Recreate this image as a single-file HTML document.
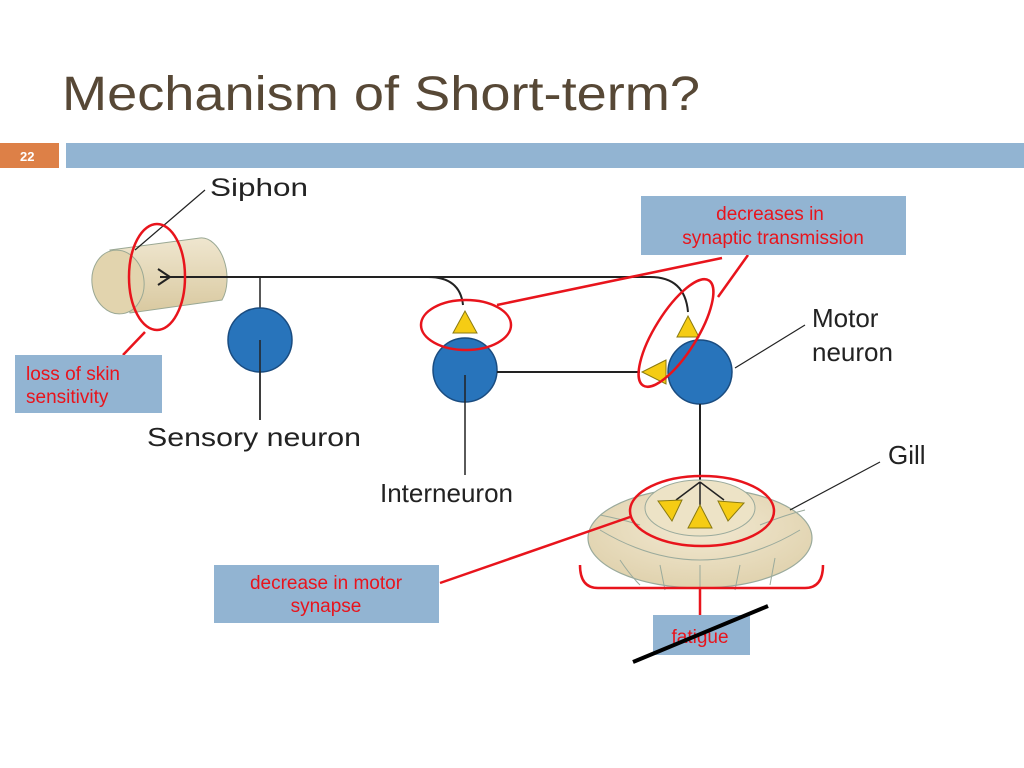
<!DOCTYPE html>
<html><head><style>
body{margin:0;width:1024px;height:768px;background:#fff;overflow:hidden;font-family:"Liberation Sans",sans-serif}
svg{position:absolute;left:0;top:0}
</style></head><body>
<svg width="1024" height="768" viewBox="0 0 1024 768">
<defs>
<linearGradient id="cyl" x1="0" y1="0" x2="0" y2="1"><stop offset="0" stop-color="#efe6cf"/><stop offset="1" stop-color="#d9c9a0"/></linearGradient>
<radialGradient id="gill" cx="0.5" cy="0.4" r="0.6"><stop offset="0" stop-color="#f2e9d2"/><stop offset="1" stop-color="#e0d2ae"/></radialGradient>
</defs>
<text x="62" y="110" font-size="48" fill="#574836" textLength="638" lengthAdjust="spacingAndGlyphs">Mechanism of Short-term?</text>
<rect x="0" y="143" width="59" height="25" fill="#dd8047"/>
<text x="20" y="161" font-size="13" font-weight="bold" fill="#fff">22</text>
<rect x="66" y="143" width="958" height="25" fill="#92b4d2"/>

<!-- siphon -->
<path d="M110 250 L200 238 A22 36 -8 0 1 222 300 L130 313 Z" fill="url(#cyl)" stroke="#9aa894" stroke-width="1"/>
<ellipse cx="118" cy="282" rx="26" ry="32" transform="rotate(-8 118 282)" fill="#e2d4ae" stroke="#9aa894"/>
<line x1="135" y1="250" x2="205" y2="190" stroke="#222" stroke-width="1.2"/>
<text x="210" y="196" font-size="25" fill="#222" textLength="98" lengthAdjust="spacingAndGlyphs">Siphon</text>
<path d="M158 269 L170 277 L158 285" fill="none" stroke="#222" stroke-width="2"/>
<path d="M160 277 H428 Q460 277 463 305" fill="none" stroke="#222" stroke-width="2"/>
<path d="M428 277 H650 Q685 277 688 312" fill="none" stroke="#222" stroke-width="2"/>

<!-- sensory -->
<line x1="260" y1="277" x2="260" y2="420" stroke="#222" stroke-width="1.5"/>
<circle cx="260" cy="340" r="32" fill="#2874bb" stroke="#1a4c80" stroke-width="1.5"/>
<line x1="260" y1="340" x2="260" y2="420" stroke="#222" stroke-width="1.5"/>
<text x="147" y="446" font-size="26" fill="#222" textLength="214" lengthAdjust="spacingAndGlyphs">Sensory neuron</text>

<!-- interneuron -->
<polygon points="465,311 453,333 477,333" fill="#f5cc14" stroke="#8a7a10"/>
<circle cx="465" cy="370" r="32" fill="#2874bb" stroke="#1a4c80" stroke-width="1.5"/>
<line x1="465" y1="375" x2="465" y2="475" stroke="#222" stroke-width="1.5"/>
<line x1="497" y1="372" x2="640" y2="372" stroke="#222" stroke-width="2"/>
<text x="380" y="502" font-size="26" fill="#222">Interneuron</text>

<!-- motor -->
<polygon points="688,316 677,337 699,337" fill="#f5cc14" stroke="#8a7a10"/>
<polygon points="666,360 642,372 666,384" fill="#f5cc14" stroke="#8a7a10"/>
<circle cx="700" cy="372" r="32" fill="#2874bb" stroke="#1a4c80" stroke-width="1.5"/>
<line x1="735" y1="368" x2="805" y2="325" stroke="#222" stroke-width="1.2"/>
<text x="812" y="327" font-size="26" fill="#222">Motor</text>
<text x="812" y="361" font-size="26" fill="#222">neuron</text>
<line x1="700" y1="404" x2="700" y2="482" stroke="#222" stroke-width="2"/>

<!-- gill -->
<ellipse cx="700" cy="538" rx="112" ry="50" fill="url(#gill)" stroke="#9aaa9c" stroke-width="1.2"/>
<path d="M600 530 Q650 560 700 560 Q750 560 800 530 M620 560 Q630 575 640 585 M660 565 L665 590 M700 565 L700 592 M740 565 L735 590 M775 558 L770 585 M600 515 Q625 520 640 525 M760 525 Q785 515 805 510" fill="none" stroke="#9aaa9c" stroke-width="1"/>
<ellipse cx="700" cy="508" rx="55" ry="28" fill="#ede3c6" stroke="#9aaa9c"/>
<path d="M700 482 L676 500 M700 482 L700 505 M700 482 L724 500" stroke="#222" stroke-width="1.5" fill="none"/>
<polygon points="658,501 682,500 672,521" fill="#f5cc14" stroke="#8a7a10"/>
<polygon points="700,505 688,528 712,528" fill="#f5cc14" stroke="#8a7a10"/>
<polygon points="718,501 744,503 728,521" fill="#f5cc14" stroke="#8a7a10"/>
<line x1="790" y1="510" x2="880" y2="462" stroke="#222" stroke-width="1.2"/>
<text x="888" y="464" font-size="26" fill="#222">Gill</text>

<!-- red annotations -->
<g fill="none" stroke="#e8141c" stroke-width="2.5">
<ellipse cx="157" cy="277" rx="28" ry="53"/>
<ellipse cx="466" cy="325" rx="45" ry="25"/>
<ellipse cx="676" cy="333" rx="62" ry="21" transform="rotate(-58 676 333)"/>
<ellipse cx="702" cy="511" rx="72" ry="35"/>
<line x1="497" y1="305" x2="722" y2="258"/>
<line x1="718" y1="297" x2="748" y2="255"/>
<line x1="145" y1="332" x2="123" y2="355"/>
<line x1="440" y1="583" x2="630" y2="517"/>
<path d="M580 565 Q580 588 598 588 H805 Q823 588 823 565"/>
<line x1="700" y1="588" x2="700" y2="615"/>
</g>

<rect x="641" y="196" width="265" height="59" fill="#92b4d2"/>
<text x="770" y="220" font-size="19" fill="#e8141c" text-anchor="middle">decreases in</text>
<text x="773" y="244" font-size="19" fill="#e8141c" text-anchor="middle">synaptic transmission</text>
<rect x="15" y="355" width="147" height="58" fill="#92b4d2"/>
<text x="26" y="380" font-size="19" fill="#e8141c">loss of skin</text>
<text x="26" y="403" font-size="19" fill="#e8141c">sensitivity</text>
<rect x="214" y="565" width="225" height="58" fill="#92b4d2"/>
<text x="326" y="589" font-size="19" fill="#e8141c" text-anchor="middle">decrease in motor</text>
<text x="326" y="612" font-size="19" fill="#e8141c" text-anchor="middle">synapse</text>
<rect x="653" y="615" width="97" height="40" fill="#92b4d2"/>
<text x="700" y="643" font-size="19" fill="#e8141c" text-anchor="middle">fatigue</text>
<line x1="633" y1="662" x2="768" y2="606" stroke="#000" stroke-width="4"/>
</svg>
</body></html>
